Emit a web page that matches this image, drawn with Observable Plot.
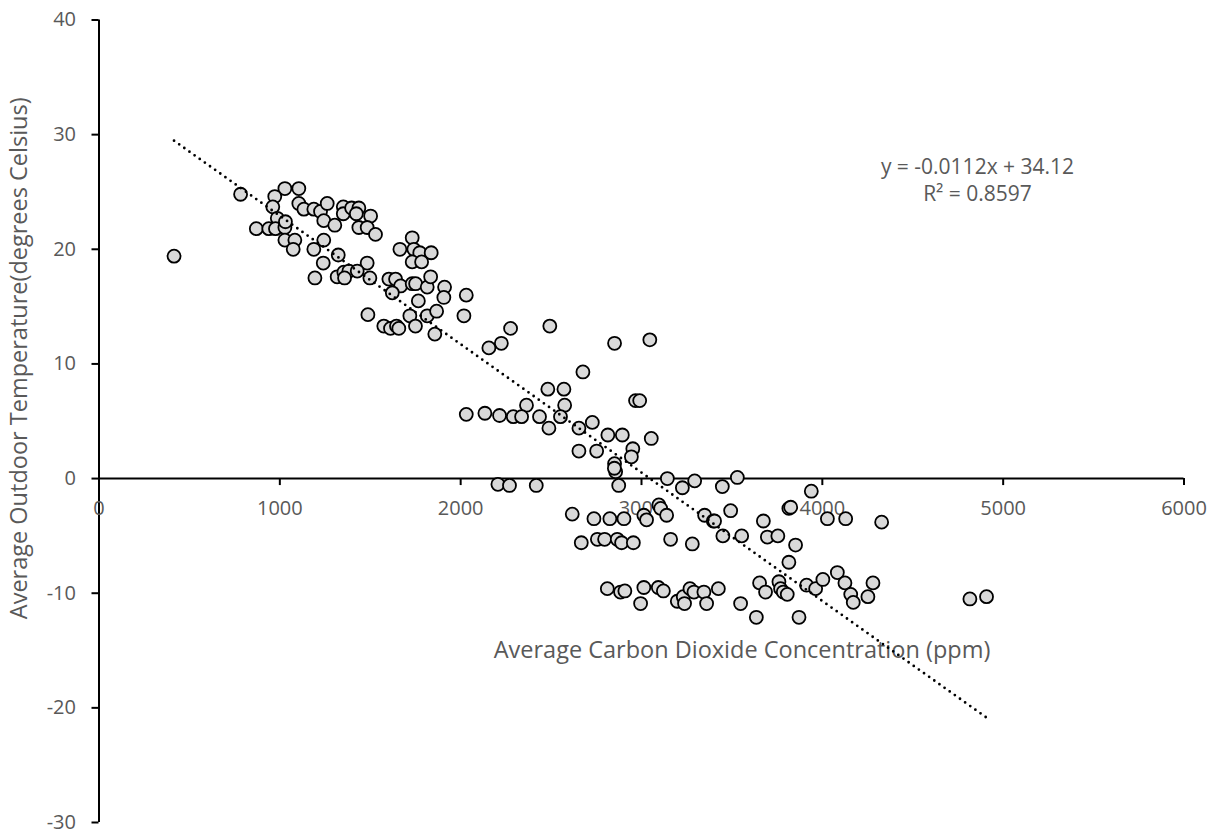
<!DOCTYPE html>
<html>
<head>
<meta charset="utf-8">
<script src="https://cdn.jsdelivr.net/npm/d3@7"></script>
<script src="https://cdn.jsdelivr.net/npm/@observablehq/plot@0.6"></script>
<style>
  html, body { margin: 0; padding: 0; background: #fff; }
  #chart svg { display: block; }
</style>
</head>
<body>
<div id="chart"></div>
<script>
// ---- data ----
const co2 = [415,783,1028,1105,972,961,986,870,939,976,1028,1031,1028,1083,1074,1105,1133,1188,1225,1262,1243,1304,1351,1351,1397,1437,1423,1502,1437,1483,1529,1243,1188,1323,1732,1664,1741,1774,1837,1732,1784,1483,1240,1194,1317,1354,1382,1428,1358,1498,1603,1640,1668,1622,1732,1751,1815,1834,1911,1907,1766,2031,2018,1719,1815,1867,1487,1575,1612,1645,1658,1750,1857,2276,2493,2225,2156,2851,3046,2676,2482,2571,2967,2990,2364,2575,2031,2134,2215,2291,2337,2436,2552,2488,2728,2654,2814,2894,3054,2654,2752,2952,2944,2851,2857,2850,2874,3143,3294,3226,3447,3530,2206,2270,2418,3939,2617,2737,2825,2903,3013,3028,3096,3106,3139,3349,3397,3404,3493,3674,3815,3825,4028,4129,4328,2667,2756,2796,2866,2890,2955,3161,3281,3450,3554,3696,3754,3852,3815,4083,2811,2884,2908,2995,3013,3093,3121,3198,3231,3238,3268,3290,3345,3360,3425,3548,3635,3653,3686,3760,3769,3784,3806,3871,3913,3963,4003,4125,4157,4171,4252,4280,4816,4908];
const temp = [19.4,24.8,25.3,25.3,24.6,23.7,22.7,21.8,21.8,21.8,21.9,22.4,20.8,20.8,20.0,24.0,23.5,23.5,23.3,24.0,22.5,22.1,23.7,23.1,23.6,23.6,23.1,22.9,21.9,21.9,21.3,20.8,20.0,19.5,21.0,20.0,20.0,19.7,19.7,18.9,18.9,18.8,18.8,17.5,17.6,18.0,18.1,18.1,17.5,17.5,17.4,17.4,16.8,16.2,17.0,17.0,16.7,17.6,16.7,15.8,15.5,16.0,14.2,14.2,14.2,14.6,14.3,13.3,13.1,13.3,13.1,13.3,12.6,13.1,13.3,11.8,11.4,11.8,12.1,9.3,7.8,7.8,6.8,6.8,6.4,6.4,5.6,5.7,5.5,5.4,5.4,5.4,5.4,4.4,4.9,4.4,3.8,3.8,3.5,2.4,2.4,2.6,1.9,1.3,0.6,0.9,-0.6,0.0,-0.2,-0.8,-0.7,0.1,-0.5,-0.6,-0.6,-1.1,-3.1,-3.5,-3.5,-3.5,-3.2,-3.6,-2.3,-2.6,-3.2,-3.2,-3.7,-3.7,-2.8,-3.7,-2.6,-2.5,-3.5,-3.5,-3.8,-5.6,-5.3,-5.3,-5.3,-5.6,-5.6,-5.3,-5.7,-5.0,-5.0,-5.1,-5.0,-5.8,-7.3,-8.2,-9.6,-9.9,-9.8,-10.9,-9.5,-9.5,-9.8,-10.7,-10.3,-10.9,-9.6,-9.9,-9.9,-10.9,-9.6,-10.9,-12.1,-9.1,-9.9,-9.0,-9.6,-9.9,-10.1,-12.1,-9.3,-9.6,-8.8,-9.1,-10.1,-10.8,-10.3,-9.1,-10.5,-10.3];
const xTicks = [0, 1000, 2000, 3000, 4000, 5000, 6000];
const yTicks = [-30, -20, -10, 0, 10, 20, 30, 40];
const xDomain = [0, 6000];
const yDomain = [-30, 40];
const slope = -0.0112;
const intercept = 34.12;
const xTitle = "Average Carbon Dioxide Concentration (ppm)";
const yTitle = "Average Outdoor Temperature(degrees Celsius)";
const eqText = "y = -0.0112x + 34.12";
const r2Text = "R² = 0.8597";

// ---- layout ----
const W = 1215, H = 835;
const mL = 98.5, mR = 31.5, mT = 19.5, mB = 13;
const tickPx = 7;
const gray = "#595959";
const font = "Open Sans";

const points = co2.map((x, i) => ({x, y: temp[i]}));
const xMin = d3.min(co2), xMax = d3.max(co2);
const trend = [xMin, xMax].map(x => ({x, y: slope * x + intercept}));

// tick lengths expressed in data units
const yUnitsPerPx = (yDomain[1] - yDomain[0]) / (H - mT - mB);
const xUnitsPerPx = (xDomain[1] - xDomain[0]) / (W - mL - mR);

const chart = Plot.plot({
  width: W,
  height: H,
  marginLeft: mL,
  marginRight: mR,
  marginTop: mT,
  marginBottom: mB,
  style: {background: "#fff", fontFamily: font},
  x: {domain: xDomain, axis: null},
  y: {domain: yDomain, axis: null},
  marks: [
    // axis lines
    Plot.ruleY([0], {stroke: "#000", strokeWidth: 2}),
    Plot.ruleX([0], {stroke: "#000", strokeWidth: 2}),
    // tick marks
    Plot.ruleX(xTicks, {x: d => d, y1: 0, y2: -tickPx * yUnitsPerPx, stroke: "#000", strokeWidth: 2}),
    Plot.ruleY(yTicks, {y: d => d, x1: -tickPx * xUnitsPerPx, x2: 0, stroke: "#000", strokeWidth: 2}),
    // tick labels
    Plot.text(xTicks, {x: d => d, y: 0, dy: 30, text: d => String(d), fill: gray, fontSize: 20, textAnchor: "middle"}),
    Plot.text(yTicks, {x: 0, y: d => d, dx: -23, text: d => String(d), fill: gray, fontSize: 20, textAnchor: "end"}),
    // axis titles and equation
    Plot.text([xTitle], {frameAnchor: "top-left", dx: 643, dy: 621, text: d => d, fill: gray, fontSize: 23.5, textAnchor: "middle"}),
    Plot.text([yTitle], {frameAnchor: "left", dx: -80, dy: -63, rotate: -90, text: d => d, fill: gray, fontSize: 23.5, textAnchor: "middle"}),
    Plot.text([eqText], {frameAnchor: "top-left", dx: 878.5, dy: 139.5, text: d => d, fill: gray, fontSize: 21, textAnchor: "middle"}),
    Plot.text([r2Text], {frameAnchor: "top-left", dx: 878.5, dy: 166, text: d => d, fill: gray, fontSize: 21, textAnchor: "middle"}),
    // data
    Plot.dot(points, {x: "x", y: "y", r: 6.5, fill: "#d9d9d9", stroke: "#000", strokeWidth: 1.8}),
    // trendline
    Plot.line(trend, {x: "x", y: "y", stroke: "#000", strokeWidth: 2.8, strokeDasharray: "0 6.3", strokeLinecap: "round"})
  ]
});
document.getElementById("chart").appendChild(chart);
</script>
</body>
</html>
